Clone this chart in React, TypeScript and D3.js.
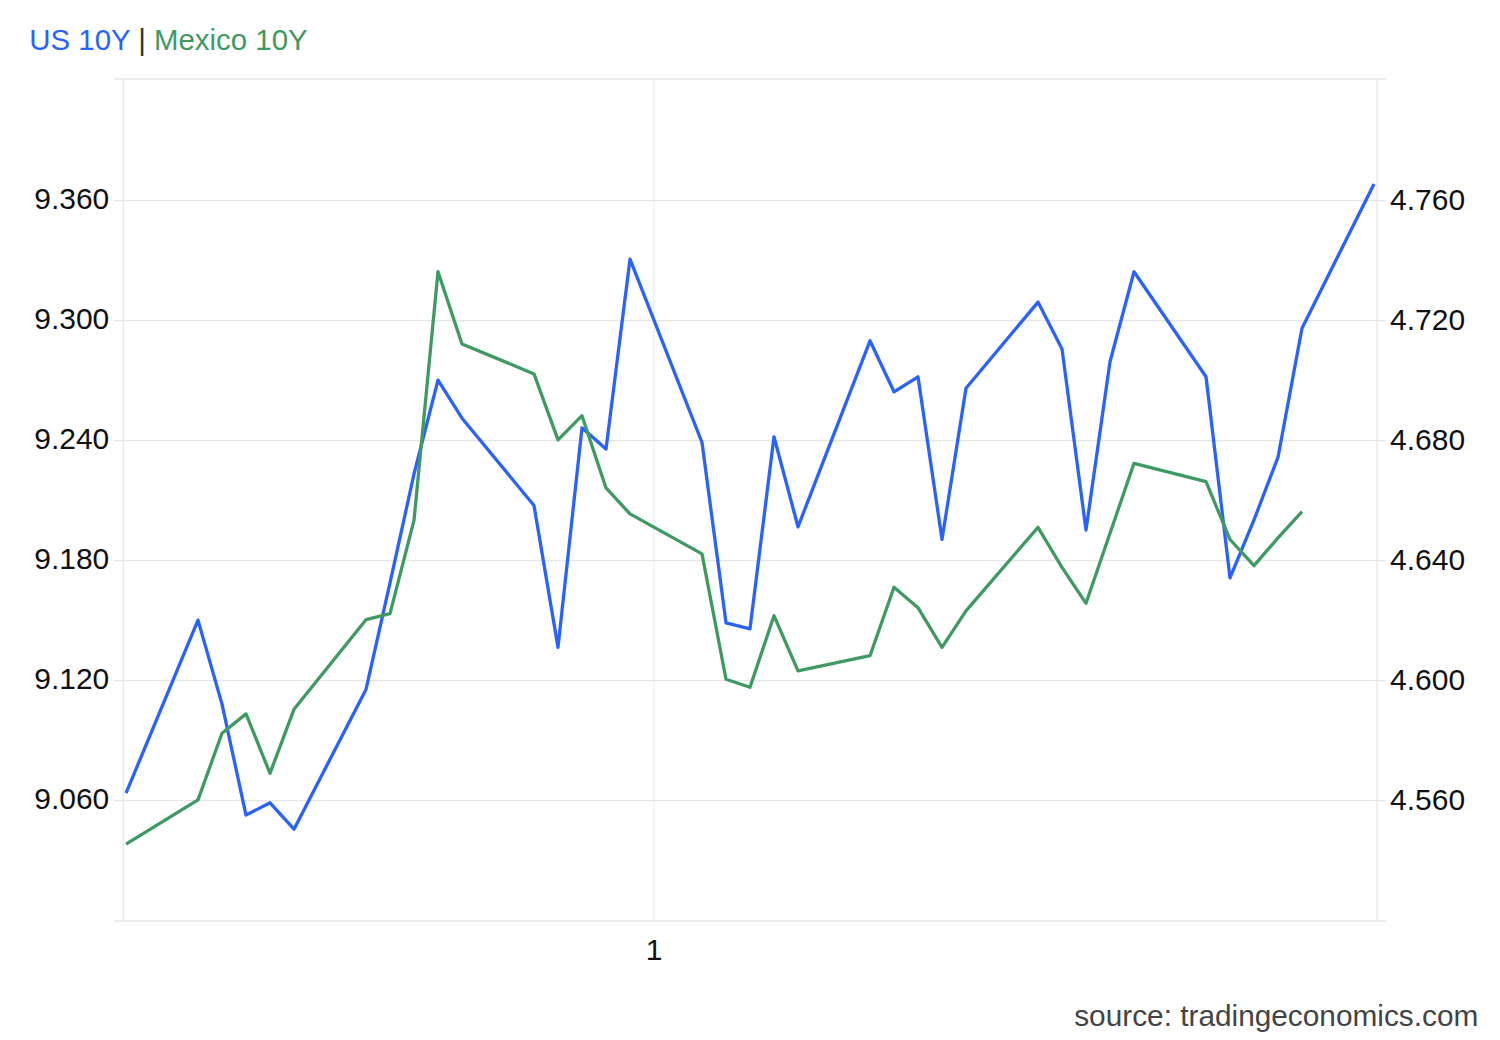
import React, { useEffect, useRef } from 'react'
import * as d3 from 'd3'

// trading days (UTC)
const dates = [
    "2025-01-10", "2025-01-13", "2025-01-14", "2025-01-15", "2025-01-16", "2025-01-17",
    "2025-01-20", "2025-01-21", "2025-01-22", "2025-01-23", "2025-01-24",
    "2025-01-27", "2025-01-28", "2025-01-29", "2025-01-30", "2025-01-31",
    "2025-02-03", "2025-02-04", "2025-02-05", "2025-02-06", "2025-02-07",
    "2025-02-10", "2025-02-11", "2025-02-12", "2025-02-13", "2025-02-14",
    "2025-02-17", "2025-02-18", "2025-02-19", "2025-02-20", "2025-02-21",
    "2025-02-24", "2025-02-25", "2025-02-26", "2025-02-27", "2025-02-28",
    "2025-03-03",
]

// US 10Y, right axis
const us10y = [
    4.5625, 4.6202, 4.5922, 4.5552, 4.5593, 4.5505,
    4.5971, 4.6326, 4.6689, 4.7002, 4.6875,
    4.6584, 4.6111, 4.6843, 4.6772, 4.7405,
    4.6794, 4.6193, 4.6173, 4.6813, 4.6513,
    4.7133, 4.6963, 4.7013, 4.6471, 4.6975,
    4.7262, 4.7106, 4.6502, 4.7063, 4.7363,
    4.7013, 4.6343, 4.6536, 4.6745, 4.7175,
    4.7656,
]

// Mexico 10Y, left axis (null = no quote that day)
const mexico10y: (number | null)[] = [
    9.0383, 9.0604, 9.0937, 9.1034, 9.0737, 9.1057,
    9.1505, 9.1535, 9.2002, 9.3245, 9.2884,
    9.2734, 9.2404, 9.2525, 9.2164, 9.2034,
    9.1834, 9.1207, 9.1167, 9.1525, 9.1249,
    9.1325, 9.1667, 9.1565, 9.1367, 9.1549,
    9.1967, 9.1767, 9.1587, null, 9.2287,
    9.2195, 9.1906, 9.1775, 9.1914, 9.2045,
    null,
]

const leftTicks = [9.06, 9.12, 9.18, 9.24, 9.3, 9.36]
const rightTicks = [4.56, 4.6, 4.64, 4.68, 4.72, 4.76]
const xTicks = ["2025-02-01"]

const WIDTH = 1500
const HEIGHT = 1040
const BLUE = "#2962ff"
const GREEN = "#3f9a62"
const FONT = "'Liberation Sans', Arial, sans-serif"

export default function App() {
    const svgRef = useRef<SVGSVGElement>(null)

    useEffect(() => {
        if (!svgRef.current) return
        const svg = d3.select(svgRef.current)
        svg.selectAll("*").remove()

        const plot = { left: 123.3, right: 1377, top: 79, bottom: 921 }
        const parse = d3.utcParse("%Y-%m-%d")
        const parsed = dates.map(d => parse(d) as Date)

        const x = d3.scaleUtc()
            .domain([parsed[0], parsed[parsed.length - 1]])
            .range([126, 1374])

        const yLeft = d3.scaleLinear().domain([9.0, 9.42]).range([920.7, 80.7])
        const yRight = d3.scaleLinear().domain([4.52, 4.8]).range([920.7, 80.7])

        svg.append("rect").attr("width", WIDTH).attr("height", HEIGHT).attr("fill", "#fff")

        // title
        const title = svg.append("text")
            .attr("x", 29.3).attr("y", 50)
            .attr("font-family", FONT).attr("font-size", 29.4)
        title.append("tspan").attr("fill", BLUE).text("US 10Y")
        title.append("tspan").attr("fill", "#333").text(" | ")
        title.append("tspan").attr("fill", GREEN).text("Mexico 10Y")

        // vertical x grid
        svg.selectAll(".xgrid")
            .data(xTicks)
            .enter().append("line")
            .attr("class", "xgrid")
            .attr("x1", d => x(parse(d) as Date)).attr("x2", d => x(parse(d) as Date))
            .attr("y1", plot.top).attr("y2", plot.bottom)
            .attr("stroke", "#e8edf3").attr("stroke-width", 1.3)

        // horizontal grid (ticks + frame)
        const gridYs = [plot.top, ...leftTicks.map(t => yLeft(t)), plot.bottom]
        svg.selectAll(".ygrid")
            .data(gridYs)
            .enter().append("line")
            .attr("class", "ygrid")
            .attr("x1", 114).attr("x2", 1386)
            .attr("y1", d => d).attr("y2", d => d)
            .attr("stroke", "#e6e6e6").attr("stroke-width", 1.3)

        // axis lines
        svg.selectAll(".vaxis")
            .data([plot.left, plot.right])
            .enter().append("line")
            .attr("class", "vaxis")
            .attr("x1", d => d).attr("x2", d => d)
            .attr("y1", plot.top).attr("y2", plot.bottom)
            .attr("stroke", "#e6e6e6").attr("stroke-width", 1.3)

        // tick labels
        svg.selectAll(".ltick")
            .data(leftTicks)
            .enter().append("text")
            .attr("class", "ltick")
            .attr("x", 109.3).attr("y", d => yLeft(d) + 8.3)
            .attr("text-anchor", "end")
            .attr("font-family", FONT).attr("font-size", 30).attr("fill", "#111")
            .text(d => d3.format(".3f")(d))

        svg.selectAll(".rtick")
            .data(rightTicks)
            .enter().append("text")
            .attr("class", "rtick")
            .attr("x", 1390).attr("y", d => yRight(d) + 8.8)
            .attr("font-family", FONT).attr("font-size", 30).attr("fill", "#111")
            .text(d => d3.format(".3f")(d))

        svg.selectAll(".xtick")
            .data(xTicks)
            .enter().append("text")
            .attr("class", "xtick")
            .attr("x", d => x(parse(d) as Date)).attr("y", 960)
            .attr("text-anchor", "middle")
            .attr("font-family", FONT).attr("font-size", 30).attr("fill", "#111")
            .text(d => d3.utcFormat("%-d")(parse(d) as Date))

        // US line
        const usData = parsed.map((d, i) => ({ date: d, v: us10y[i] }))
        const lineUs = d3.line<typeof usData[0]>()
            .x(d => x(d.date))
            .y(d => yRight(d.v))

        svg.append("path")
            .datum(usData)
            .attr("fill", "none")
            .attr("stroke", BLUE)
            .attr("stroke-width", 3.3)
            .attr("stroke-linejoin", "round")
            .attr("d", lineUs)

        // Mexico line (skip missing days, keep line connected)
        const mxData = parsed
            .map((d, i) => ({ date: d, v: mexico10y[i] }))
            .filter(d => d.v !== null) as { date: Date; v: number }[]
        const lineMx = d3.line<typeof mxData[0]>()
            .x(d => x(d.date))
            .y(d => yLeft(d.v))

        svg.append("path")
            .datum(mxData)
            .attr("fill", "none")
            .attr("stroke", GREEN)
            .attr("stroke-width", 3.3)
            .attr("stroke-linejoin", "round")
            .attr("d", lineMx)

        // source
        svg.append("text")
            .attr("x", 1478.3).attr("y", 1026)
            .attr("text-anchor", "end")
            .attr("font-family", FONT).attr("font-size", 29.8).attr("fill", "#444")
            .text("source: tradingeconomics.com")
    }, [])

    return (
        <svg
            ref={svgRef}
            width={WIDTH}
            height={HEIGHT}
            viewBox={`0 0 ${WIDTH} ${HEIGHT}`}
            style={{ position: "absolute", left: 0, top: 0, display: "block" }}
        />
    )
}
